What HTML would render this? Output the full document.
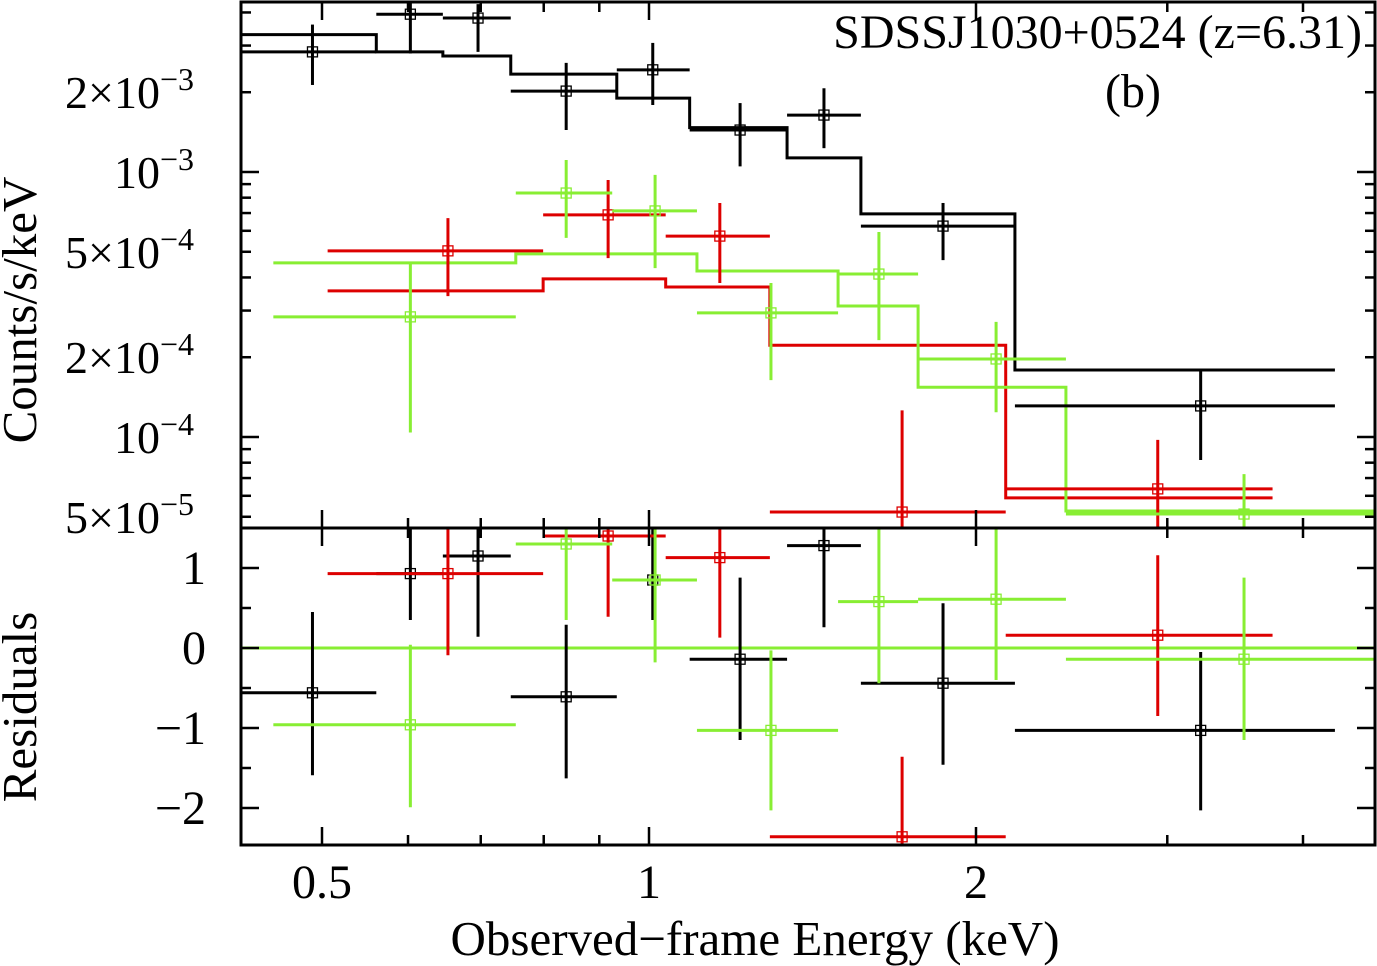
<!DOCTYPE html>
<html><head><meta charset="utf-8"><style>
html,body{margin:0;padding:0;background:#fff;}
svg{display:block;font-family:"Liberation Serif",serif;}
</style></head><body>
<svg id="chart" width="1377" height="966" viewBox="0 0 1377 966" xmlns="http://www.w3.org/2000/svg"></svg>
<script>
// ---- data (energies in keV, counts/s/keV) ----
const blackLo=[0.421,0.561,0.646,0.746,0.934,1.090,1.340,1.567,2.172];
const blackHi=[0.561,0.646,0.746,0.934,1.090,1.340,1.567,2.172,4.28];
const blackE=[0.490,0.603,0.696,0.839,1.008,1.213,1.449,1.865,3.22];
const blackY=[2.84e-3,3.94e-3,3.81e-3,2.02e-3,2.43e-3,1.44e-3,1.64e-3,6.25e-4,1.31e-4];
const blackYlo=[2.13e-3,2.80e-3,2.84e-3,1.44e-3,1.79e-3,1.05e-3,1.23e-3,4.65e-4,8.19e-5];
const blackYhi=[3.60e-3,4.5e-3,4.3e-3,2.58e-3,3.07e-3,1.82e-3,2.07e-3,7.64e-4,1.79e-4];
const blackModel=[3.30e-3,2.84e-3,2.74e-3,2.34e-3,1.90e-3,1.47e-3,1.13e-3,6.95e-4,1.79e-4];
const blackRes=[-0.56,0.93,1.15,-0.61,0.85,-0.14,1.28,-0.44,-1.03];
const blackResLo=[-1.59,0.35,0.14,-1.63,0.35,-1.15,0.26,-1.46,-2.03];
const blackResHi=[0.45,1.6,1.6,0.29,1.6,0.88,1.6,0.56,-0.05];

const redLo=[0.506,0.799,1.036,1.292,2.13];
const redHi=[0.799,1.036,1.292,2.13,3.75];
const redE=[0.653,0.917,1.162,1.710,2.94];
const redY=[5.04e-4,6.89e-4,5.73e-4,5.21e-5,6.37e-5];
const redYlo=[3.40e-4,4.73e-4,3.81e-4,4.0e-5,4.0e-5];
const redYhi=[6.70e-4,9.33e-4,7.64e-4,1.26e-4,9.75e-5];
const redModel=[3.56e-4,3.95e-4,3.68e-4,2.22e-4,5.89e-5];
const redRes=[0.93,1.4,1.13,-2.36,0.16];
const redResLo=[-0.09,0.39,0.13,-3,-0.85];
const redResHi=[1.6,1.6,1.6,-1.36,1.16];

const greenLo=[0.451,0.754,0.925,1.107,1.493,1.769,2.42];
const greenHi=[0.754,0.925,1.107,1.493,1.769,2.42,4.66];
const greenE=[0.603,0.839,1.013,1.295,1.628,2.087,3.53];
const greenY=[2.84e-4,8.33e-4,7.13e-4,2.94e-4,4.12e-4,1.97e-4,5.12e-5];
const greenYlo=[1.04e-4,5.64e-4,4.34e-4,1.64e-4,2.32e-4,1.24e-4,4.0e-5];
const greenYhi=[4.57e-4,1.11e-3,9.75e-4,3.81e-4,5.94e-4,2.72e-4,7.24e-5];
const greenModel=[4.54e-4,4.91e-4,4.23e-4,3.12e-4,1.54e-4,5.26e-5];
const greenModelLo=[0.451,0.754,1.107,1.493,1.769,2.42];
const greenModelHi=[0.754,1.107,1.493,1.769,2.42,4.66];
const greenRes=[-0.96,1.3,0.85,-1.03,0.58,0.61,-0.14];
const greenResLo=[-1.99,0.35,-0.18,-2.03,-0.44,-0.4,-1.15];
const greenResHi=[0.04,1.6,1.6,-0.03,1.6,1.6,0.88];

const xTickVals=[0.5,1,2];
const xTickLabels=["0.5","1","2"];
const yTickVals=[5e-5,1e-4,2e-4,5e-4,1e-3,2e-3];
const yTickMant=["5×","","2×","5×","","2×"];
const yTickExp=["−5","−4","−4","−4","−3","−3"];
const rTickVals=[-2,-1,0,1];
const rTickLabels=["−2","−1","0","1"];

// ---- axes ----
const L=241,R=1375,T=2,M=528,B=845;
const xs=e=>649+327*Math.log2(e);
const ys=v=>172-265*(Math.log10(v)+3);
const rs=v=>648-80*v;
const svg=document.getElementById('chart');
const NS='http://www.w3.org/2000/svg';
function mk(tag,at,parent){const el=document.createElementNS(NS,tag);for(const k in at)el.setAttribute(k,at[k]);(parent||svg).appendChild(el);return el;}
const clipDefs=mk('defs',{});
const c1=mk('clipPath',{id:'cu'},clipDefs);mk('rect',{x:L,y:T,width:R-L,height:M-T},c1);
const c2=mk('clipPath',{id:'cl'},clipDefs);mk('rect',{x:L,y:M,width:R-L,height:B-M},c2);
const gU=mk('g',{'clip-path':'url(#cu)'});


const gL=mk('g',{'clip-path':'url(#cl)'});



function line(g,x1,y1,x2,y2,c,w){return mk('line',{x1,y1,x2,y2,stroke:c,'stroke-width':w||3},g);}
const BLK='#000',RED='#dd0000',GRN='#88ee33';
const zl=line(gL,L,rs(0),R,rs(0),GRN);


function drawSeries(name,color,lo,hi,E,Y,Ylo,Yhi,res,resLo,resHi){
  for(let i=0;i<E.length;i++){
    const g=mk('g',{},gU);
    
    
    line(g,xs(lo[i]),ys(Y[i]),xs(hi[i]),ys(Y[i]),color);
    line(g,xs(E[i]),ys(Ylo[i]),xs(E[i]),ys(Yhi[i]),color);
    mk('rect',{x:xs(E[i])-5,y:ys(Y[i])-5,width:10,height:10,fill:'none',stroke:color,'stroke-width':1.3},g);
    const h=mk('g',{},gL);
    
    
    line(h,xs(lo[i]),rs(res[i]),xs(hi[i]),rs(res[i]),color);
    line(h,xs(E[i]),rs(resLo[i]),xs(E[i]),rs(resHi[i]),color);
    mk('rect',{x:xs(E[i])-5,y:rs(res[i])-5,width:10,height:10,fill:'none',stroke:color,'stroke-width':1.3},h);
  }
}
function drawModel(name,color,lo,hi,vals){
  let d='';
  for(let i=0;i<vals.length;i++){
    d+=(i===0?'M':'L')+xs(lo[i])+','+ys(vals[i])+'L'+xs(hi[i])+','+ys(vals[i]);
  }
  const p=mk('path',{d,fill:'none',stroke:color,'stroke-width':3},gU);
  
  
}
drawModel('black','#000',blackLo,blackHi,blackModel);
drawModel('red',RED,redLo,redHi,redModel);
drawModel('green',GRN,greenModelLo,greenModelHi,greenModel);
drawSeries('black',BLK,blackLo,blackHi,blackE,blackY,blackYlo,blackYhi,blackRes,blackResLo,blackResHi);
drawSeries('red',RED,redLo,redHi,redE,redY,redYlo,redYhi,redRes,redResLo,redResHi);
drawSeries('green',GRN,greenLo,greenHi,greenE,greenY,greenYlo,greenYhi,greenRes,greenResLo,greenResHi);

// frames
const ax=mk('g',{});


mk('rect',{x:L,y:T,width:R-L,height:B-T,fill:'none',stroke:'#000','stroke-width':3},ax);
line(ax,L,M,R,M,'#000',3);
const xMinor=[0.5,0.6,0.7,0.8,0.9,1,2,3,4];
xMinor.forEach(e=>{
  const big=xTickVals.includes(e);const len=big?18:10;const x=xs(e);
  [[T,1],[M,-1],[M,1],[B,-1]].forEach(([y,s])=>line(ax,x,y,x,y+s*len,'#000',2.5));
});
xTickVals.forEach((e,i)=>{
  const t=mk('text',{x:xs(e),y:898,'font-size':48,'text-anchor':'middle'},svg);
  t.textContent=xTickLabels[i];
  
  
});
for(let dec=-5;dec<=-3;dec++)for(let m=1;m<=9;m++){
  const v=m*Math.pow(10,dec);const y=ys(v);if(y<T||y>M)continue;
  const len=m===1?18:10;
  line(ax,L,y,L+len,y,'#000',2.5);line(ax,R,y,R-len,y,'#000',2.5);
}
yTickVals.forEach((v,i)=>{
  const t=mk('text',{x:194,y:ys(v)+16,'font-size':46,'text-anchor':'end'},svg);
  
  
  t.textContent=yTickMant[i]+'10';
  const s=mk('tspan',{dy:-18,'font-size':32},t);s.textContent=yTickExp[i];
});
for(let v=-2.5;v<=1.5;v+=0.5){
  const y=rs(v);if(y<M||y>B)continue;const len=Number.isInteger(v)?18:10;
  line(ax,L,y,L+len,y,'#000',2.5);line(ax,R,y,R-len,y,'#000',2.5);
}
rTickVals.forEach((v,i)=>{
  const t=mk('text',{x:206,y:rs(v)+16,'font-size':48,'text-anchor':'end'},svg);
  t.textContent=rTickLabels[i];
  
  
});
function txt(name,attrs,s){const t=mk('text',attrs,svg);t.textContent=s;

}
txt('y-axis-title',{x:0,y:0,'font-size':49,'text-anchor':'middle',transform:'translate(36,310) rotate(-90)'},'Counts/s/keV');
txt('residual-axis-title',{x:0,y:0,'font-size':49,'text-anchor':'middle',transform:'translate(36,707) rotate(-90)'},'Residuals');
txt('x-axis-title',{x:755,y:955,'font-size':49,'text-anchor':'middle'},'Observed−frame Energy (keV)');
txt('chart-title',{x:1362,y:48,'font-size':48,'text-anchor':'end'},'SDSSJ1030+0524 (z=6.31)');
txt('panel-label',{x:1133,y:107,'font-size':48,'text-anchor':'middle'},'(b)');
</script>
</body></html>
